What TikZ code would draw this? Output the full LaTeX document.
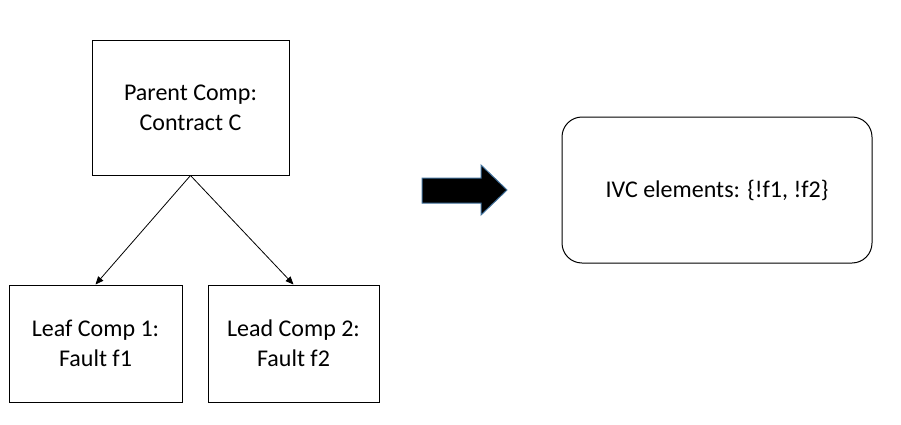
\documentclass[tikz,border=0pt]{standalone}
\usepackage{fontspec}
\setmainfont{Carlito}
\usepackage{tikz}
\usetikzlibrary{positioning}
\usetikzlibrary{arrows.meta}
\definecolor{arrowedge}{RGB}{65,113,156}

\begin{document}
\begin{tikzpicture}[x=0.75pt,y=-0.75pt,
    comp/.style={draw,line width=0.75pt,align=center,font=\fontsize{18}{22.5}\selectfont},
    link/.style={-{Triangle[length=6pt,width=5pt]},line width=0.6pt}]
  \useasboundingbox (0,0) rectangle (901,425);
  \node[comp,minimum width=147.75pt,minimum height=101.25pt] (parent) at (190.5,107.5) {Parent Comp:\\Contract C};
  \node[comp,minimum width=129.75pt,minimum height=87.75pt] (leafa) at (95.5,343.5) {Leaf Comp 1:\\Fault f1};
  \node[comp,minimum width=128.25pt,minimum height=87.75pt] (leafb) at (293.5,343.5) {Lead Comp 2:\\Fault f2};
  \draw[link] (parent.south) -- (leafa.north);
  \draw[link] (parent.south) -- (leafb.north);
  \filldraw[fill=black,draw=arrowedge,line width=0.75pt] (422,178) -- (481,178) -- (481,165) -- (507,190)
    -- (481,215) -- (481,203) -- (422,203) -- cycle;
  \node[comp,rounded corners=15pt,minimum width=232.5pt,minimum height=109.5pt] (ivc) at (717,190) {IVC elements: \{!f1, !f2\}};
\end{tikzpicture}
\end{document}
